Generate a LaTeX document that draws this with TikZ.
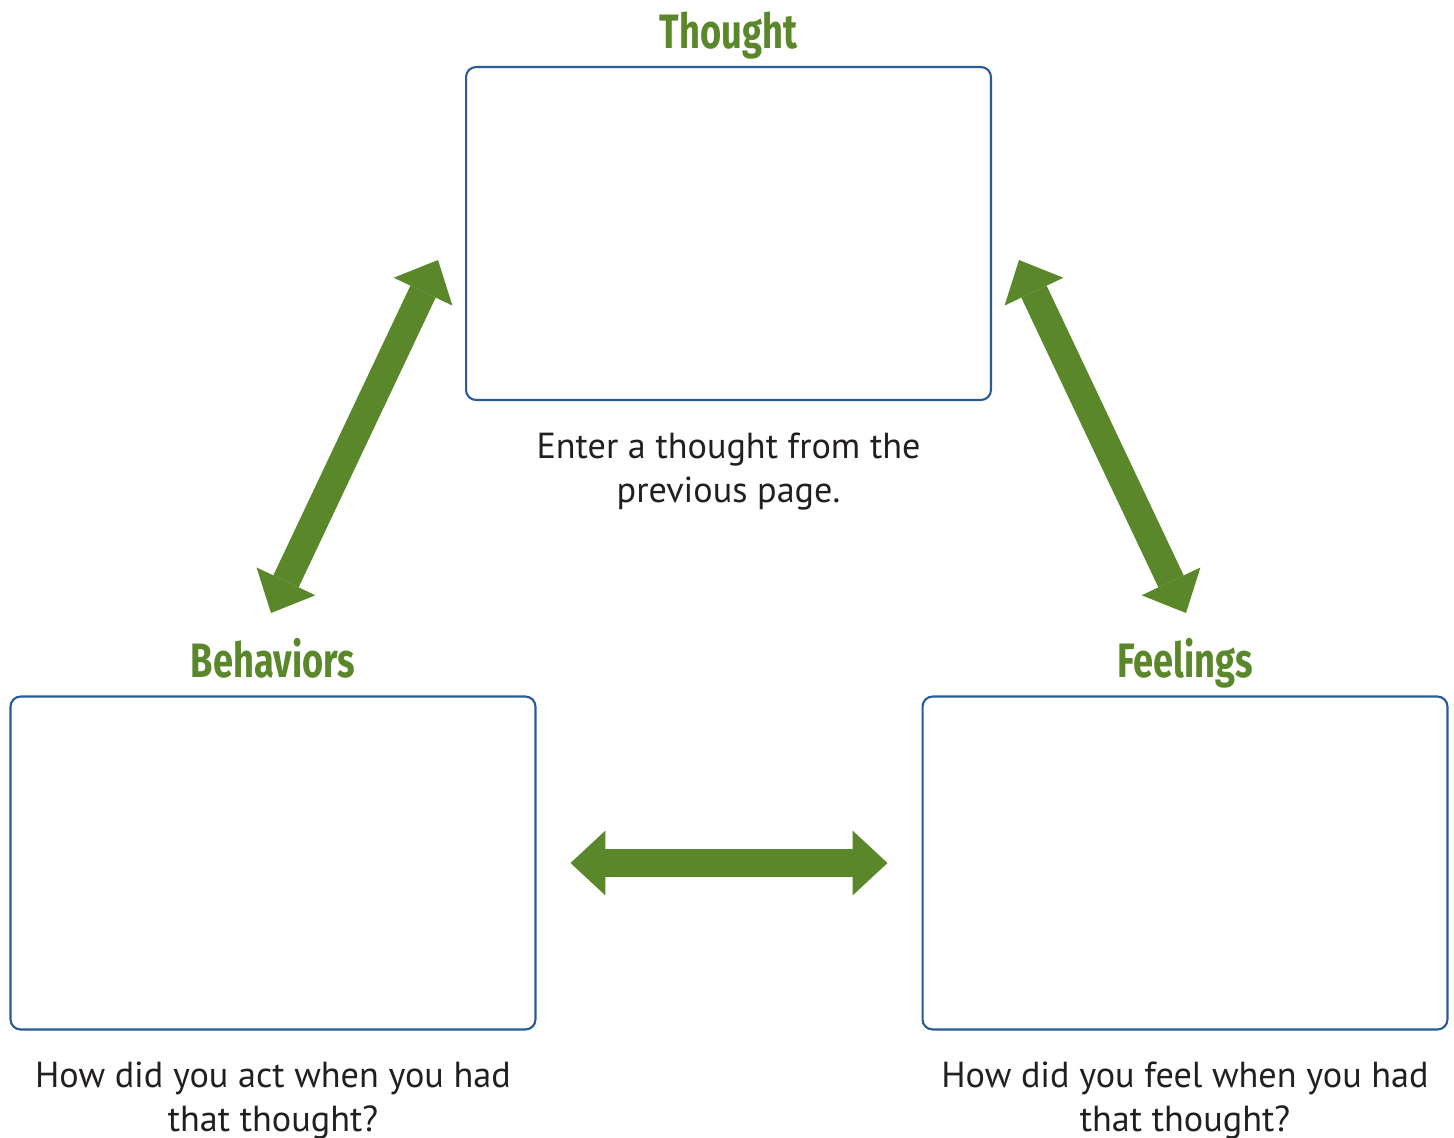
\documentclass[tikz,border=0pt]{standalone}
\usepackage{fontspec}
\setmainfont{PT Sans}
\newfontfamily\headfont[FakeStretch=0.75]{Fira Sans}
\usetikzlibrary{arrows.meta}
\definecolor{leafgreen}{RGB}{90,135,42}
\definecolor{boxblue}{RGB}{40,90,150}
\definecolor{inkgray}{RGB}{35,31,32}
\tikzset{bigtip/.tip={Triangle[width=1.3cm,length=0.7cm,line width=0pt]}}

\begin{document}
\begin{tikzpicture}[x=0.02cm, y=-0.02cm,
  card/.style={draw=boxblue, line width=1.2pt, rounded corners=0.2cm,
    minimum width=10.5cm, minimum height=6.66cm, inner sep=0pt},
  heading/.style={font=\headfont\bfseries\fontsize{27.5}{30}\selectfont,
    text=leafgreen, anchor=base, inner sep=0pt},
  caption/.style={font=\fontsize{20.6}{25}\selectfont, text=inkgray,
    align=center, anchor=base, inner sep=0pt},
  link/.style={draw=leafgreen, line width=0.56cm, bigtip-bigtip}]
\useasboundingbox (0,0) rectangle (1454,1137);

% boxes
\node[card] (thought) at (728.5,233.5) {};
\node[card] (behaviors) at (273,863) {};
\node[card] (feelings) at (1185,863) {};

% headings
\node[heading] (thoughthead) at (728.5,48) {Thought};
\node[heading] (behaviorshead) at (273,677) {Behaviors};
\node[heading] (feelingshead) at (1185,677) {Feelings};

% captions (base = last line)
\node[caption] (thoughtnote) at (728.5,502) {Enter a thought from the\\previous page.};
\node[caption] (behaviorsnote) at (273,1131) {How did you act when you had\\that thought?};
\node[caption] (feelingsnote) at (1185,1131) {How did you feel when you had\\that thought?};

% arrows
\coordinate (ltop) at (438,260);
\coordinate (lbot) at (271,613);
\coordinate (rtop) at (1019,260);
\coordinate (rbot) at (1186,613);
\draw[link] (lbot) -- (ltop);
\draw[link] (rtop) -- (rbot);
\draw[link, shorten <=0.68cm, shorten >=0.68cm] (behaviors) -- (feelings);
\end{tikzpicture}
\end{document}
